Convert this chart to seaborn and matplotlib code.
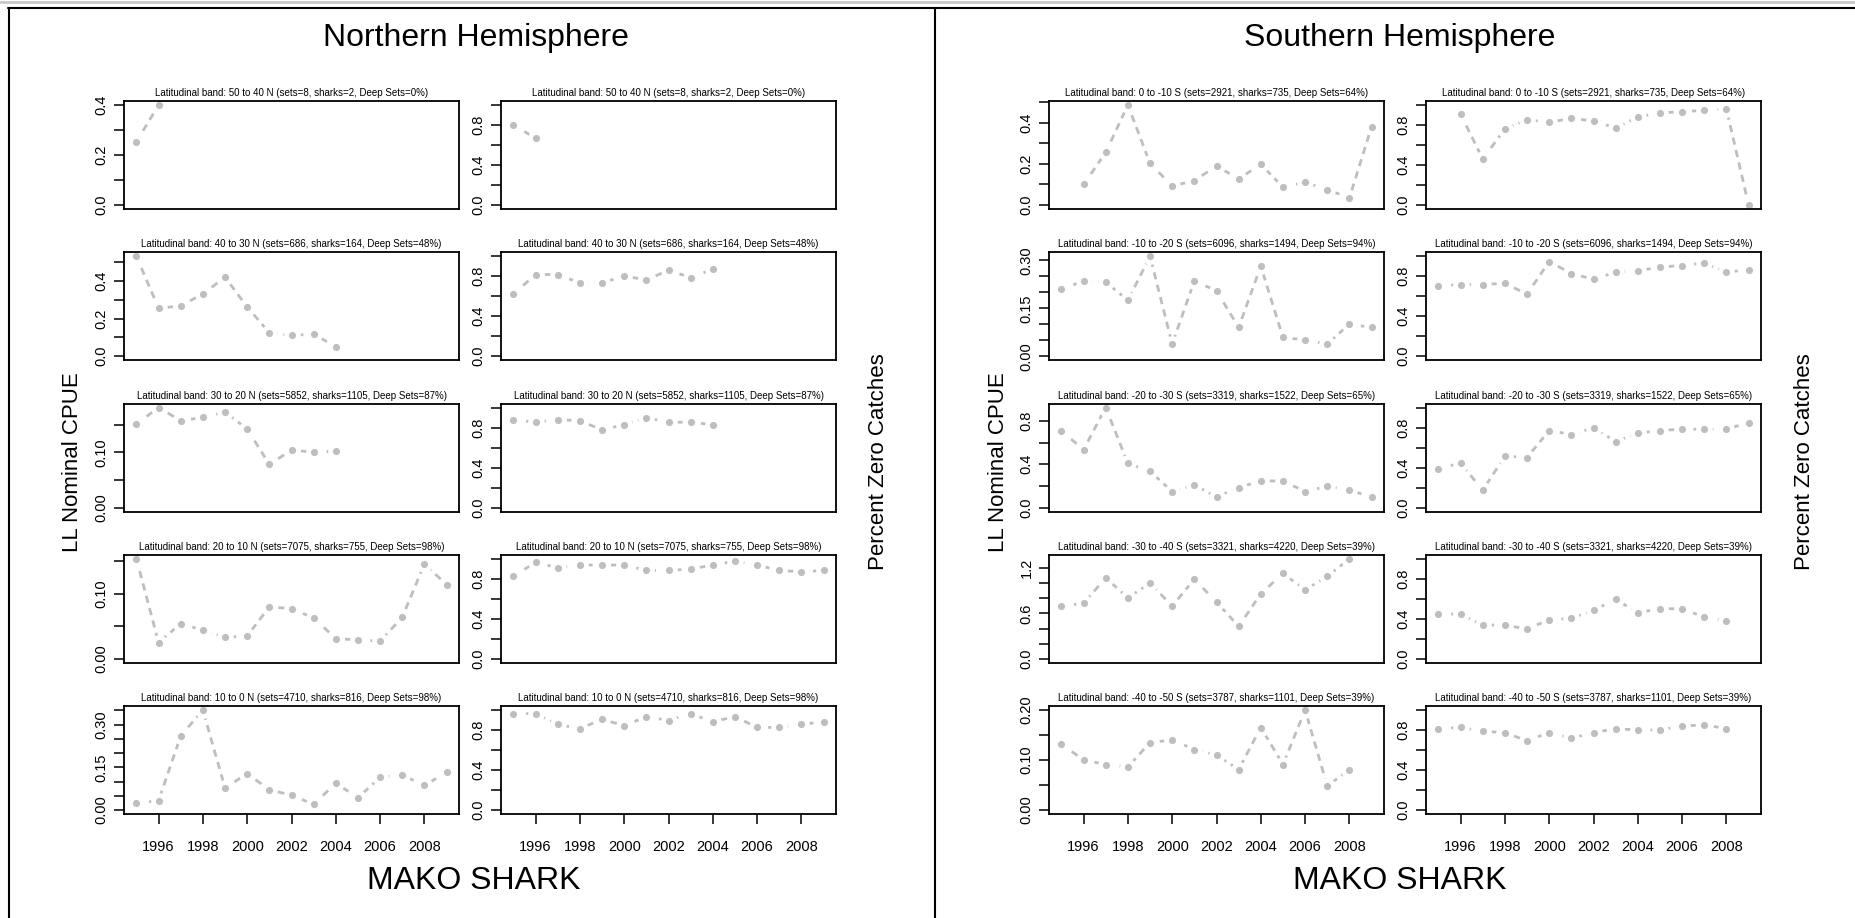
import numpy as np
import pandas as pd
import matplotlib
matplotlib.use("Agg")
import matplotlib.pyplot as plt
import seaborn as sns
from matplotlib.ticker import MultipleLocator, FormatStrFormatter, NullFormatter
from matplotlib.lines import Line2D

sns.set_theme(style="white")
plt.rcParams["font.family"] = ["Liberation Sans", "DejaVu Sans"]

nan = np.nan
years = [1995, 1996, 1997, 1998, 1999, 2000, 2001, 2002, 2003, 2004, 2005, 2006, 2007, 2008, 2009]
year_ticks = [1996, 1998, 2000, 2002, 2004, 2006, 2008]

# ---------------- Northern Hemisphere ----------------
titles_n = [
    "Latitudinal band: 50 to 40 N (sets=8, sharks=2, Deep Sets=0%)",
    "Latitudinal band: 40 to 30 N (sets=686, sharks=164, Deep Sets=48%)",
    "Latitudinal band: 30 to 20 N (sets=5852, sharks=1105, Deep Sets=87%)",
    "Latitudinal band: 20 to 10 N (sets=7075, sharks=755, Deep Sets=98%)",
    "Latitudinal band: 10 to 0 N (sets=4710, sharks=816, Deep Sets=98%)",
]
cpue_n_50_40 = [0.253, 0.400, nan, nan, nan, nan, nan, nan, nan, nan, nan, nan, nan, nan, nan]
cpue_n_40_30 = [0.532, 0.255, 0.268, 0.332, 0.421, 0.262, 0.125, 0.111, 0.118, 0.050, nan, nan, nan, nan, nan]
cpue_n_30_20 = [0.151, 0.181, 0.157, 0.163, 0.173, 0.142, 0.078, 0.104, 0.100, 0.102, nan, nan, nan, nan, nan]
cpue_n_20_10 = [0.154, 0.025, 0.054, 0.044, 0.033, 0.035, 0.080, 0.077, 0.063, 0.031, 0.029, 0.027, 0.064, 0.146, 0.114]
cpue_n_10_0 = [0.023, 0.033, 0.260, 0.351, 0.077, 0.128, 0.071, 0.052, 0.020, 0.094, 0.043, 0.115, 0.123, 0.086, 0.133]

pzc_n_50_40 = [0.803, 0.666, nan, nan, nan, nan, nan, nan, nan, nan, nan, nan, nan, nan, nan]
pzc_n_40_30 = [0.623, 0.817, 0.817, 0.733, 0.733, 0.803, 0.763, 0.860, 0.787, 0.870, nan, nan, nan, nan, nan]
pzc_n_30_20 = [0.880, 0.853, 0.880, 0.867, 0.777, 0.827, 0.897, 0.853, 0.853, 0.827, nan, nan, nan, nan, nan]
pzc_n_20_10 = [0.827, 0.963, 0.910, 0.937, 0.937, 0.937, 0.883, 0.883, 0.897, 0.937, 0.977, 0.937, 0.883, 0.870, 0.883]
pzc_n_10_0 = [0.964, 0.964, 0.856, 0.813, 0.908, 0.843, 0.934, 0.895, 0.964, 0.882, 0.934, 0.826, 0.826, 0.856, 0.882]

# ---------------- Southern Hemisphere ----------------
titles_s = [
    "Latitudinal band: 0 to -10 S (sets=2921, sharks=735, Deep Sets=64%)",
    "Latitudinal band: -10 to -20 S (sets=6096, sharks=1494, Deep Sets=94%)",
    "Latitudinal band: -20 to -30 S (sets=3319, sharks=1522, Deep Sets=65%)",
    "Latitudinal band: -30 to -40 S (sets=3321, sharks=4220, Deep Sets=39%)",
    "Latitudinal band: -40 to -50 S (sets=3787, sharks=1101, Deep Sets=39%)",
]
cpue_s_0_10 = [nan, 0.100, 0.256, 0.487, 0.203, 0.092, 0.119, 0.190, 0.127, 0.198, 0.087, 0.111, 0.074, 0.035, 0.382]
cpue_s_10_20 = [0.209, 0.236, 0.232, 0.175, 0.313, 0.038, 0.236, 0.205, 0.090, 0.282, 0.059, 0.051, 0.038, 0.101, 0.090]
cpue_s_20_30 = [0.711, 0.535, 0.926, 0.409, 0.335, 0.148, 0.209, 0.098, 0.185, 0.246, 0.246, 0.148, 0.197, 0.160, 0.098]
cpue_s_30_40 = [0.698, 0.733, 1.073, 0.808, 1.002, 0.698, 1.055, 0.751, 0.428, 0.861, 1.130, 0.914, 1.090, 1.325, nan]
cpue_s_40_50 = [0.132, 0.100, 0.091, 0.086, 0.135, 0.140, 0.121, 0.110, 0.081, 0.165, 0.091, 0.200, 0.048, 0.081, nan]

pzc_s_0_10 = [nan, 0.910, 0.460, 0.760, 0.853, 0.827, 0.867, 0.840, 0.770, 0.880, 0.920, 0.933, 0.947, 0.960, 0.000]
pzc_s_10_20 = [0.703, 0.717, 0.717, 0.730, 0.620, 0.947, 0.827, 0.770, 0.840, 0.853, 0.893, 0.907, 0.933, 0.840, 0.867]
pzc_s_20_30 = [0.390, 0.443, 0.173, 0.513, 0.500, 0.770, 0.730, 0.797, 0.660, 0.743, 0.770, 0.783, 0.783, 0.783, 0.850]
pzc_s_30_40 = [0.447, 0.447, 0.337, 0.337, 0.297, 0.390, 0.403, 0.487, 0.593, 0.460, 0.500, 0.500, 0.417, 0.377, nan]
pzc_s_40_50 = [0.813, 0.826, 0.787, 0.774, 0.692, 0.774, 0.718, 0.774, 0.813, 0.800, 0.800, 0.839, 0.852, 0.813, nan]

cpue_n = [cpue_n_50_40, cpue_n_40_30, cpue_n_30_20, cpue_n_20_10, cpue_n_10_0]
pzc_n = [pzc_n_50_40, pzc_n_40_30, pzc_n_30_20, pzc_n_20_10, pzc_n_10_0]
cpue_s = [cpue_s_0_10, cpue_s_10_20, cpue_s_20_30, cpue_s_30_40, cpue_s_40_50]
pzc_s = [pzc_s_0_10, pzc_s_10_20, pzc_s_20_30, pzc_s_30_40, pzc_s_40_50]

# y tick steps (minor tick step, labelled step, format) for the CPUE panels
cpue_ticks_n = [(0.1, 0.2, "%.1f"), (0.1, 0.2, "%.1f"), (0.05, 0.10, "%.2f"),
                (0.05, 0.10, "%.2f"), (0.05, 0.15, "%.2f")]
cpue_ticks_s = [(0.1, 0.2, "%.1f"), (0.05, 0.15, "%.2f"), (0.2, 0.4, "%.1f"),
                (0.2, 0.6, "%.1f"), (0.05, 0.10, "%.2f")]

W, H = 1855, 918
fig = plt.figure(figsize=(W / 100, H / 100), dpi=100)
fig.patch.set_facecolor("white")

GRAY = "#BEBEBE"
AX_W, AX_H = 335, 108
row_tops = [101 + 151.25 * i for i in range(5)]


def make_ax(x, top):
    return fig.add_axes([x / W, 1 - (top + AX_H) / H, AX_W / W, AX_H / H])


def draw_panel(ax, vals, title, ymin, ymax, minor, major, fmt, bottom):
    df = pd.DataFrame({"year": years, "value": vals}).dropna()
    sns.lineplot(data=df, x="year", y="value", ax=ax, color=GRAY, lw=2.0,
                 linestyle=(0, (2.6, 2.0)), marker="o", markersize=8.6,
                 markeredgewidth=3.4, markeredgecolor="white",
                 markerfacecolor=GRAY, errorbar=None)
    ax.set_xlim(1994.44, 2009.56)
    ax.set_ylim(ymin, ymax)
    ax.set_xlabel("")
    ax.set_ylabel("")
    ax.set_facecolor("white")
    for sp in ax.spines.values():
        sp.set_visible(True)
        sp.set_color("black")
        sp.set_linewidth(1.3)
    ax.yaxis.set_major_locator(MultipleLocator(major))
    ax.yaxis.set_minor_locator(MultipleLocator(minor))
    ax.yaxis.set_major_formatter(FormatStrFormatter(fmt))
    ax.yaxis.set_minor_formatter(NullFormatter())
    ax.tick_params(axis="y", which="both", direction="out", length=7, width=1.1,
                   color="black", left=True, labelsize=10.5, pad=4, labelcolor="black")
    for lab in ax.get_yticklabels():
        lab.set_rotation(90)
        lab.set_va("center")
        lab.set_ha("right")
    if bottom:
        ax.set_xticks(year_ticks)
        ax.set_xticklabels([str(y) for y in year_ticks])
        ax.tick_params(axis="x", which="both", direction="out", length=7, width=1.1,
                       color="black", bottom=True, labelsize=10.5, pad=12,
                       labelcolor="black")
    else:
        ax.set_xticks([])
    ax.set_title(title, fontsize=7, pad=3.5, color="black")


def draw_half(x_left, x_right, titles, cpue, pzc, cpue_ticks):
    for i in range(5):
        bottom = i == 4
        vmax = np.nanmax(cpue[i])
        mn, mj, fm = cpue_ticks[i]
        ax1 = make_ax(x_left, row_tops[i])
        draw_panel(ax1, cpue[i], titles[i], -0.04 * vmax, 1.04 * vmax, mn, mj, fm, bottom)
        ax2 = make_ax(x_right, row_tops[i])
        draw_panel(ax2, pzc[i], titles[i], -0.04, 1.04, 0.2, 0.4, "%.1f", bottom)


draw_half(124, 501, titles_n, cpue_n, pzc_n, cpue_ticks_n)
draw_half(1049, 1426, titles_s, cpue_s, pzc_s, cpue_ticks_s)

# Figure texts
for cx, name in [(476, "Northern Hemisphere"), (1400, "Southern Hemisphere")]:
    fig.text(cx / W, 1 - 38 / H, name, ha="center", va="center", fontsize=23, color="black")
for cx in (474, 1400):
    fig.text(cx / W, 1 - 881 / H, "MAKO SHARK", ha="center", va="center", fontsize=23, color="black")
for cx in (72, 998):
    fig.text(cx / W, 1 - 462 / H, "LL Nominal CPUE", ha="center", va="center",
             rotation=90, fontsize=16, color="black")
for cx in (879, 1805):
    fig.text(cx / W, 1 - 462 / H, "Percent Zero Catches", ha="center", va="center",
             rotation=90, fontsize=16, color="black")

# Window frames
def fline(x0, y0, x1, y1, color="black", lw=1.5):
    fig.add_artist(Line2D([x0 / W, x1 / W], [1 - y0 / H, 1 - y1 / H],
                          transform=fig.transFigure, color=color, lw=lw))

fline(0, 1.5, W, 1.5, color="#C8C8C8", lw=2)
fline(8, 8, W, 8)
fline(9, 8, 9, H)
fline(935, 8, 935, H)

fig.savefig("out.png", dpi=100, facecolor="white")
